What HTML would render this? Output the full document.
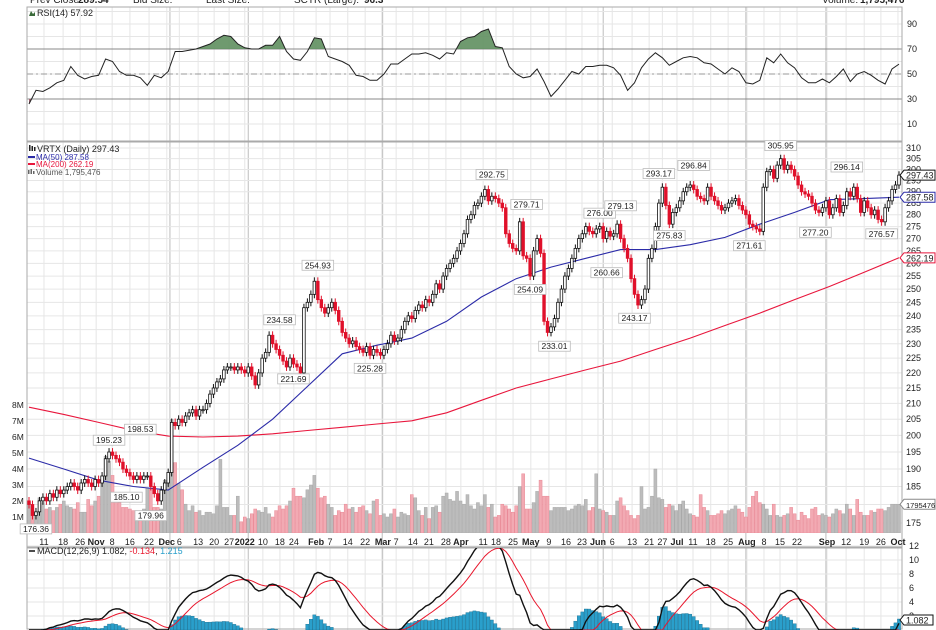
<!DOCTYPE html>
<html><head><meta charset="utf-8"><style>
html,body{margin:0;padding:0;background:#fff;width:936px;height:630px;overflow:hidden;}
svg{display:block;font-family:"Liberation Sans",sans-serif;}
</style></head><body>
<svg id="chart" width="936" height="630" viewBox="0 0 936 630" xmlns="http://www.w3.org/2000/svg"></svg>
<script>
// ---- data ----
const closes = [180,177,178,181,182,181,183,182,184,183,184,185,186,185,184,186,187,186,185,187,
186,188,193,195,194,193,192,190,189,188,187,188,187,188,188,185,183,181,184,186,189,
204,203,205,204,206,207,208,206,208,208,210,213,215,217,218,221,222,222,221,222,221,
220,222,219,216,220,225,227,233,230,228,226,224,222,225,
223,222,220,243,245,248,253,
246,243,241,243,245,242,238,234,232,230,231,229,228,227,229,226,228,227,
226,228,230,233,231,232,235,238,240,239,242,244,243,246,245,248,252,250,255,258,260,262,265,
268,272,278,280,284,285,288,291,286,288,287,285,283,272,268,266,265,277,263,262,
255,265,270,264,238,234,236,239,245,250,255,258,262,266,270,272,275,273,272,274,
275,270,273,271,272,276,270,266,262,254,248,244,246,250,262,266,275,285,292,284,276,281,
283,286,290,292,293,291,288,287,286,292,288,286,284,282,283,285,286,287,284,282,
280,276,275,274,273,292,299,300,296,302,305,300,302,300,297,293,290,289,288,285,282,281,283,
286,280,283,287,281,284,290,288,292,287,281,286,283,280,282,278,277,283,286,291,293,297.43];
const volumes = [1.9,1.4,1.2,2.2,1.9,1.5,1.6,1.4,1.6,1.8,2.0,1.7,1.6,1.5,1.9,1.3,1.3,2.1,1.7,2.0,
2.3,3.2,4.8,4.5,3.6,2.3,1.9,1.6,1.6,1.5,1.4,1.0,1.1,1.5,2.8,2.8,1.6,1.6,1.5,3.3,3.5,
7.1,4.4,3.1,2.7,1.8,1.4,1.7,1.3,1.4,1.1,1.3,1.3,1.2,1.7,4.6,1.6,1.6,1.1,1.1,2.3,0.7,
1.0,0.9,1.2,1.5,1.4,1.3,1.6,1.2,1.0,1.4,1.7,1.5,1.7,2.0,
2.8,2.3,2.3,2.2,2.7,3.0,3.6,
2.8,2.2,2.3,1.8,1.6,1.1,1.4,1.3,1.8,1.5,1.6,1.3,1.6,1.7,1.4,1.2,2.0,2.1,
1.1,1.2,1.0,1.2,1.5,1.0,1.3,1.2,1.1,2.4,2.2,1.4,1.1,1.6,0.9,1.6,1.7,1.3,2.3,2.5,2.1,2.0,2.6,
2.0,1.8,2.4,1.7,1.5,1.9,1.7,2.4,1.6,1.8,1.0,1.1,1.8,1.7,1.5,1.3,1.7,2.9,3.7,1.5,
1.5,1.9,2.6,3.3,2.3,2.3,1.4,1.6,1.6,1.6,1.6,1.4,1.5,1.7,1.8,1.7,2.1,1.4,1.6,3.7,
1.5,1.4,1.3,1.1,1.1,2.0,2.2,1.7,1.4,1.1,0.9,1.1,2.9,1.5,1.6,2.3,4.0,2.2,2.1,1.6,1.8,1.7,
1.4,1.8,2.0,1.5,1.2,1.1,1.0,2.4,1.6,1.4,1.1,1.1,1.2,1.4,1.2,1.4,1.5,1.7,1.5,1.3,
1.0,1.6,2.3,2.6,1.9,1.8,1.5,1.1,1.8,1.1,1.0,1.1,1.2,1.6,1.2,0.8,1.3,1.1,0.9,1.5,1.6,1.1,1.2,
1.1,1.0,1.2,1.5,1.4,1.2,1.8,1.5,1.1,2.1,1.3,1.1,1.1,1.4,1.3,1.5,1.5,1.4,1.6,1.8,1.8,1.795];
const maDays = [0,10,20,30,40,50,60,70,80,90,100,110,120,130,140,150,160,170,180,190,200,210,220,230,240,250];
const ma50 = [193.2,190,186.8,185,184,190.5,197,205,215.5,226.5,229.5,232,238,247,254,258.5,262,265.5,265.5,267.5,270.5,276,281,286.5,287,287.58];
const ma200 = [208.8,206.5,204,201.5,199.8,199.5,199.8,200.5,201.5,202.5,203.5,204.5,207,211,215,218,221,224,228,232,236.5,241,246,251,256.5,262.19];
const rsiVals = [26,37,36,39,43,45,56,49,46,48,49,62,60,52,49,49,47,41,49,47,52,68,68,69,70,72,74,78,81,80,74,71,70,70,73,73,80,68,62,61,68,79,78,64,62,60,57,49,48,45,45,50,58,58,62,66,66,67,65,62,67,66,76,79,80,84,86,72,71,56,50,47,48,54,44,32,38,45,52,50,56,56,57,57,55,49,37,43,55,62,67,63,57,60,63,64,63,59,58,54,50,55,52,43,42,45,63,59,66,59,55,47,43,43,46,43,48,54,44,50,52,49,45,42,54,57.92];
const priceTicks = [310,305,300,295,290,285,280,275,270,265,260,255,250,245,240,235,230,225,220,215,210,205,200,195,190,185,175];
const volTicks = [1,2,3,4,5,6,7,8];
const rsiTicks = [90,70,50,30,10];
const macdTicks = [12,10,8,6,4,2];
const dateLabels = ["11","18","26","Nov","8","16","22","Dec","6","13","20","27","2022","10","18","24","Feb","7","14","22","Mar","7","14","21","28","Apr","11","18","25","May","9","16","23","Jun","6","13","21","27","Jul","11","18","25","Aug","8","15","22","Sep","12","19","26","Oct"];
const dateDays = [4.3,9.8,14.7,19.3,23.9,29,34.5,39.6,43.2,48.6,53.2,57.5,62,67.2,72.1,76.1,82.5,86.5,91.6,96.6,101.7,105.5,110.3,114.9,119.8,124.1,130.5,134.2,139.1,144.2,149.4,154.3,158.9,163.5,167.6,173.3,178.2,182,186.2,190.8,195.9,200.9,206.3,211.2,215.8,220.7,229.3,234.8,240,244.8,249.7];
const majorDays = [40.5,63,101.5,165,206,229];
const annoDays = [2,23,28,32,35,72,76,83,98,133,143,144,151,164,170,166,174,181,184,191,207,216,226,235,245];
const annoPrices = [176.36,195.23,185.10,198.53,179.96,234.58,221.69,254.93,225.28,292.75,279.71,254.09,233.01,276.00,279.13,260.66,243.17,293.17,275.83,296.84,271.61,305.95,277.20,296.14,276.57];
const annoAbove = [0,1,0,1,0,1,0,1,0,1,1,0,0,1,1,0,0,1,0,1,0,1,0,1,0];

// ---- axes ----
const L=27,R=902;
const xOf=i=>29+i*3.48;
const yP=p=>148+(Math.log(310)-Math.log(p))*655.8;
const yV=v=>533-v*16;
const yR=v=>74-(v-50)*1.25;
const yM=v=>Math.min(630,630-v*7);

const svg=document.getElementById('chart');
const NS='http://www.w3.org/2000/svg';
function mk(tag,attrs,parent){const e=document.createElementNS(NS,tag);for(const k in attrs)e.setAttribute(k,attrs[k]);(parent||svg).appendChild(e);return e;}
function txt(s,x,y,attrs,parent){const t=mk('text',Object.assign({x:x,y:y,'font-size':9,fill:'#222'},attrs||{}),parent);t.textContent=s;return t;}

const defs=mk('defs',{});
const cp1=mk('clipPath',{id:'cPrice'},defs);mk('rect',{x:L,y:142,width:R-L,height:391},cp1);
const cp2=mk('clipPath',{id:'cRsi'},defs);mk('rect',{x:L,y:7,width:R-L,height:134},cp2);
const cp3=mk('clipPath',{id:'cMacd'},defs);mk('rect',{x:L,y:548,width:R-L,height:82},cp3);
const cp4=mk('clipPath',{id:'cAbove70'},defs);mk('rect',{x:L,y:7,width:R-L,height:yR(70)-7},cp4);
const cp5=mk('clipPath',{id:'cBelow30'},defs);mk('rect',{x:L,y:yR(30),width:R-L,height:141-yR(30)},cp5);

const hdr=mk('g',{},svg);


txt('Prev Close:',30,3,{'font-size':10},hdr);txt('289.54',78,3,{'font-size':10,'font-weight':'bold'},hdr);
txt('Bid Size:',133,3,{'font-size':10},hdr);txt('Last Size:',206,3,{'font-size':10},hdr);
txt('SCTR (Large):',294,3,{'font-size':10},hdr);txt('96.3',364,3,{'font-size':10,'font-weight':'bold'},hdr);
txt('Volume:',822,3,{'font-size':10},hdr);txt('1,795,476',860,3,{'font-size':10,'font-weight':'bold'},hdr);

const grid=mk('g',{},svg);


dateDays.forEach(d=>{const x=xOf(d);[[7,141],[142,533],[548,630]].forEach(r=>mk('line',{x1:x,x2:x,y1:r[0],y2:r[1],stroke:'#e6e6e6'},grid));});
majorDays.forEach(d=>{const x=xOf(d);[[7,141],[142,547],[548,630]].forEach(r=>mk('line',{x1:x,x2:x,y1:r[0],y2:r[1],stroke:'#bdbdbd'},grid));});
for(let v=10;v<=100;v+=10){mk('line',{x1:L,x2:R,y1:yR(v),y2:yR(v),stroke:'#e6e6e6'},grid);}
priceTicks.forEach(p=>mk('line',{x1:L,x2:R,y1:yP(p),y2:yP(p),stroke:'#e6e6e6'},grid));
mk('line',{x1:L,x2:R,y1:yP(180),y2:yP(180),stroke:'#e6e6e6'},grid);
macdTicks.forEach(v=>mk('line',{x1:L,x2:R,y1:yM(v),y2:yM(v),stroke:'#e6e6e6'},grid));
mk('line',{x1:L,x2:R,y1:yR(70),y2:yR(70),stroke:'#888'},grid);
mk('line',{x1:L,x2:R,y1:yR(30),y2:yR(30),stroke:'#888'},grid);
mk('line',{x1:L,x2:R,y1:yR(50),y2:yR(50),stroke:'#999','stroke-dasharray':'6,3,2,3'},grid);

[[7,134],[142,405],[548,81]].forEach(r=>mk('rect',{x:L,y:r[0],width:R-L,height:r[1],fill:'none',stroke:'#aaa'},svg));

// ---- RSI ----
const rsiG=mk('g',{'clip-path':'url(#cRsi)'},svg);


const rsiPts=rsiVals.map((v,k)=>[xOf(k*2),yR(v)]);
const ptsStr=rsiPts.map(p=>p[0].toFixed(1)+','+p[1].toFixed(1)).join(' ');
const first=rsiPts[0][0],last=rsiPts[rsiPts.length-1][0];
const fillUp=mk('polygon',{points:first+','+yR(70)+' '+ptsStr+' '+last+','+yR(70),fill:'#5f8f5f','fill-opacity':0.9,'clip-path':'url(#cAbove70)'},rsiG);


const fillDn=mk('polygon',{points:first+','+yR(30)+' '+ptsStr+' '+last+','+yR(30),fill:'#a06070','clip-path':'url(#cBelow30)'},rsiG);


const rsiLine=mk('polyline',{points:ptsStr,fill:'none',stroke:'#222','stroke-width':1},rsiG);


const rl=txt('RSI(14) 57.92',37,16,{'font-size':9});


mk('path',{d:'M29 16 L31 11 L33 14 L35 12 L35 16 Z',fill:'#3a6a3a'},svg);
rsiTicks.forEach(v=>{const t=txt(String(v),907,yR(v)+3,{'font-size':9});

});

// ---- price panel ----
const pg=mk('g',{'clip-path':'url(#cPrice)'},svg);


volumes.forEach((v,i)=>{const down=i>0&&closes[i]<closes[i-1];
const b=mk('rect',{x:xOf(i)-1.5,y:yV(v),width:3,height:533-yV(v),fill:down?'#f2aab3':'#bcbcbc',stroke:down?'#e98a96':'#a8a8a8','stroke-width':0.5},pg);

});
function line(days,vals,color,name){const pl=mk('polyline',{points:days.map((d,k)=>xOf(d).toFixed(1)+','+yP(vals[k]).toFixed(1)).join(' '),fill:'none',stroke:color,'stroke-width':1.1},pg);

}
line(maDays,ma200,'#e8163c','ma200-line');
line(maDays,ma50,'#2b2ba8','ma50-line');
closes.forEach((c,i)=>{const o=i>0?closes[i-1]:c+1;const down=c<o;const col=down?'#e0102a':'#111';
const hi=Math.max(o,c)*1.006,lo=Math.min(o,c)*0.994;const x=xOf(i);
const w=mk('line',{x1:x,x2:x,y1:yP(hi),y2:yP(lo),stroke:col,'stroke-width':1},pg);


const top=yP(Math.max(o,c)),h=Math.max(1,yP(Math.min(o,c))-top);
const b=mk('rect',{x:x-1.3,y:top,width:2.6,height:h,fill:down?col:'#fff',stroke:col,'stroke-width':0.8},pg);

});
annoDays.forEach((d,k)=>{const x=xOf(d),p=annoPrices[k],s=p.toFixed(2);const wbox=s.length*4.6+4;
const y=annoAbove[k]?yP(p)-16:yP(p)+6;
const g=mk('g',{},svg);


mk('rect',{x:x-wbox/2,y:y,width:wbox,height:10,fill:'#fff',stroke:'#bbb','stroke-width':0.8},g);
txt(s,x,y+8,{'font-size':8.5,'text-anchor':'middle',fill:'#222'},g);});
const lg=mk('g',{},svg);


mk('path',{d:'M29 145 h1.5 v6 h-1.5z M31.5 146 h1.5 v5 h-1.5z M34 147 h1.5 v4 h-1.5z',fill:'#222'},lg);
txt('VRTX (Daily) 297.43',37,152,{'font-size':9},lg);
mk('line',{x1:28,x2:35,y1:157,y2:157,stroke:'#2b2ba8','stroke-width':2},lg);
txt('MA(50) 287.58',36,160,{'font-size':8,fill:'#2b2ba8'},lg);
mk('line',{x1:28,x2:35,y1:164,y2:164,stroke:'#e8163c','stroke-width':2},lg);
txt('MA(200) 262.19',36,167,{'font-size':8,fill:'#e8163c'},lg);
mk('path',{d:'M28 174 v-4 h1.5 v4z M30.5 174 v-5 h1.5 v5z M33 174 v-3 h1.5 v3z',fill:'#666'},lg);
txt('Volume 1,795,476',36,175,{'font-size':8,fill:'#555'},lg);
priceTicks.forEach(p=>{const t=txt(String(p),906,yP(p)+3,{'font-size':9});

});
volTicks.forEach(v=>{const t=txt(v+'M',12,yV(v)+3,{'font-size':8.5});

});
function flag(s,y,col,name,fs){const g=mk('g',{},svg);


const w=Math.min(s.length*5+4,31);mk('path',{d:`M900 ${y} L904 ${y-5} L${904+w} ${y-5} L${904+w} ${y+5} L904 ${y+5} Z`,fill:'#fff',stroke:col,'stroke-width':1},g);
txt(s,906,y+3.5,{'font-size':fs||9,fill:'#222'},g);}
flag('297.43',yP(297.43),'#111','last-price-flag');
flag('287.58',yP(287.58),'#2b2ba8','ma50-flag');
flag('262.19',yP(262.19),'#e8163c','ma200-flag');
flag('1795476',yV(1.795),'#888','volume-flag',7.5);
dateLabels.forEach((s,k)=>{const bold=isNaN(+s)||s==='2022';
const t=txt(s,xOf(dateDays[k]),545,{'font-size':9,'text-anchor':'middle','font-weight':bold?'bold':'normal'});

});

// ---- MACD ----
const mg=mk('g',{'clip-path':'url(#cMacd)'},svg);


let e12=closes[0],e26=closes[0],sig=0;const macd=[],sg=[];
closes.forEach(c=>{e12=e12+(c-e12)*2/13;e26=e26+(c-e26)*2/27;const m=e12-e26;sig=sig+(m-sig)*0.2;macd.push(m);sg.push(sig);});
macd.forEach((m,i)=>{const h=m-sg[i];if(h>0){const b=mk('rect',{x:xOf(i)-1.6,y:yM(h),width:3.2,height:630-yM(h),fill:'#2a9fcb',stroke:'#1a6f90','stroke-width':0.4},mg);

}});
const sl=mk('polyline',{points:sg.map((v,i)=>xOf(i).toFixed(1)+','+yM(v).toFixed(1)).join(' '),fill:'none',stroke:'#e8162c','stroke-width':1},mg);


const ml=mk('polyline',{points:macd.map((v,i)=>xOf(i).toFixed(1)+','+yM(v).toFixed(1)).join(' '),fill:'none',stroke:'#111','stroke-width':1.4},mg);


macdTicks.forEach(v=>{const t=txt(String(v),909,yM(v)+3,{'font-size':9});

});
const ml2=mk('g',{},svg);


mk('line',{x1:29,x2:35,y1:551,y2:551,stroke:'#111','stroke-width':1.5},ml2);
const mt=txt('',37,554,{'font-size':9},ml2);
mt.innerHTML='MACD(12,26,9) 1.082, <tspan fill="#e8162c">-0.134</tspan>, <tspan fill="#2a9fcb">1.215</tspan>';
flag('1.082',620,'#111','macd-flag');
</script>
</body></html>
